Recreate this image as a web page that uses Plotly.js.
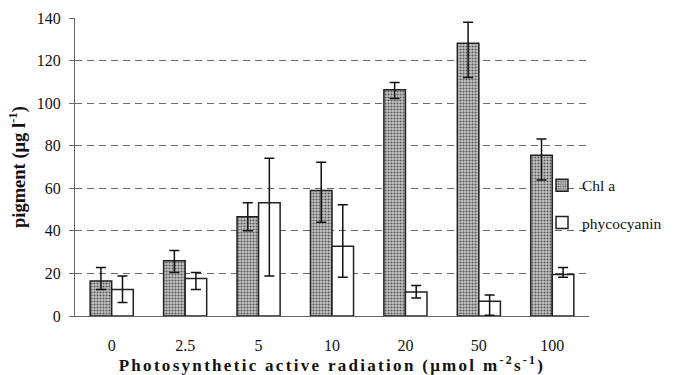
<!DOCTYPE html>
<html>
<head>
<meta charset="utf-8">
<script src="https://cdn.plot.ly/plotly-3.0.1.min.js"></script>
<style>
html,body{margin:0;padding:0;background:#fff;}
#chart{width:675px;height:375px;}
#chart .xtitle{letter-spacing:2.3px;}
</style>
</head>
<body>
<div id="chart"></div>
<script>
const categories = ["0", "2.5", "5", "10", "20", "50", "100"];
const chlA = [16.5, 25.9, 46.6, 59.0, 106.3, 128.1, 75.5];
const chlAErrPlus = [6.3, 4.9, 6.6, 13.2, 3.4, 9.9, 7.7];
const chlAErrMinus = [4.1, 5.5, 6.6, 15.0, 4.1, 16.1, 11.6];
const phycocyanin = [12.4, 17.6, 53.2, 32.8, 11.3, 6.9, 19.5];
const phycErrPlus = [6.4, 2.8, 20.9, 19.5, 3.0, 3.0, 3.3];
const phycErrMinus = [6.1, 5.2, 34.4, 14.6, 2.8, 6.6, 1.3];
const yTicks = [0, 20, 40, 60, 80, 100, 120, 140];

const serif = "Liberation Serif, Times New Roman, serif";

const traces = [
  {
    type: "bar", name: "Chl a", legendgroup: "a", x: categories, y: chlA,
    marker: {
      color: "#9a9a9a",
      line: {color: "#222", width: 1.5},
      pattern: {shape: ".", fgcolor: "#5a5a5a", bgcolor: "#c4c4c4", size: 3, solidity: 0.4}
    },
    error_y: {type: "data", symmetric: false, array: chlAErrPlus, arrayminus: chlAErrMinus,
              color: "#111", thickness: 1.5, width: 5}
  },
  {
    type: "bar", name: "phycocyanin", legendgroup: "b", x: categories, y: phycocyanin,
    marker: {color: "#ffffff", line: {color: "#222", width: 1.5}},
    error_y: {type: "data", symmetric: false, array: phycErrPlus, arrayminus: phycErrMinus,
              color: "#111", thickness: 1.5, width: 5}
  }
];

const layout = {
  width: 675, height: 375,
  margin: {l: 75, r: 86, t: 18, b: 59, autoexpand: false},
  paper_bgcolor: "#fff", plot_bgcolor: "#fff",
  barmode: "group", bargap: 0.413, bargroupgap: 0,
  font: {family: serif, size: 16, color: "#111"},
  showlegend: true,
  legend: {x: 0.9086, y: 0.375, xanchor: "left", yanchor: "middle",
           font: {family: serif, size: 15.5, color: "#111"},
           bgcolor: "rgba(0,0,0,0)", traceorder: "grouped", tracegroupgap: 14, itemwidth: 30},
  xaxis: {
    type: "category", showgrid: false, zeroline: false, automargin: false,
    showline: true, linecolor: "#666", linewidth: 1,
    ticks: "", ticklabelstandoff: 15,
    tickfont: {family: serif, size: 16, color: "#111"},
    title: {text: "<b>Photosynthetic active radiation (μmol m<sup>-2</sup>s<sup>-1</sup>)</b>",
            font: {family: serif, size: 17, color: "#111"}, standoff: 0}
  },
  yaxis: {
    range: [0, 140], tickvals: yTicks, ticktext: yTicks.map(String), automargin: false,
    showgrid: true, gridcolor: "#6a6a6a", gridwidth: 1, griddash: "7px,5px",
    zeroline: false, showline: true, linecolor: "#666", linewidth: 1,
    ticks: "outside", ticklen: 5, tickcolor: "#666", ticklabelstandoff: 5,
    tickfont: {family: serif, size: 16, color: "#111"},
    title: {text: "<b>pigment (μg l<sup>-1</sup>)</b>",
            font: {family: serif, size: 18.5, color: "#111"}, standoff: 6}
  }
};

Plotly.newPlot("chart", traces, layout, {displayModeBar: false, staticPlot: true});
</script>
</body>
</html>
